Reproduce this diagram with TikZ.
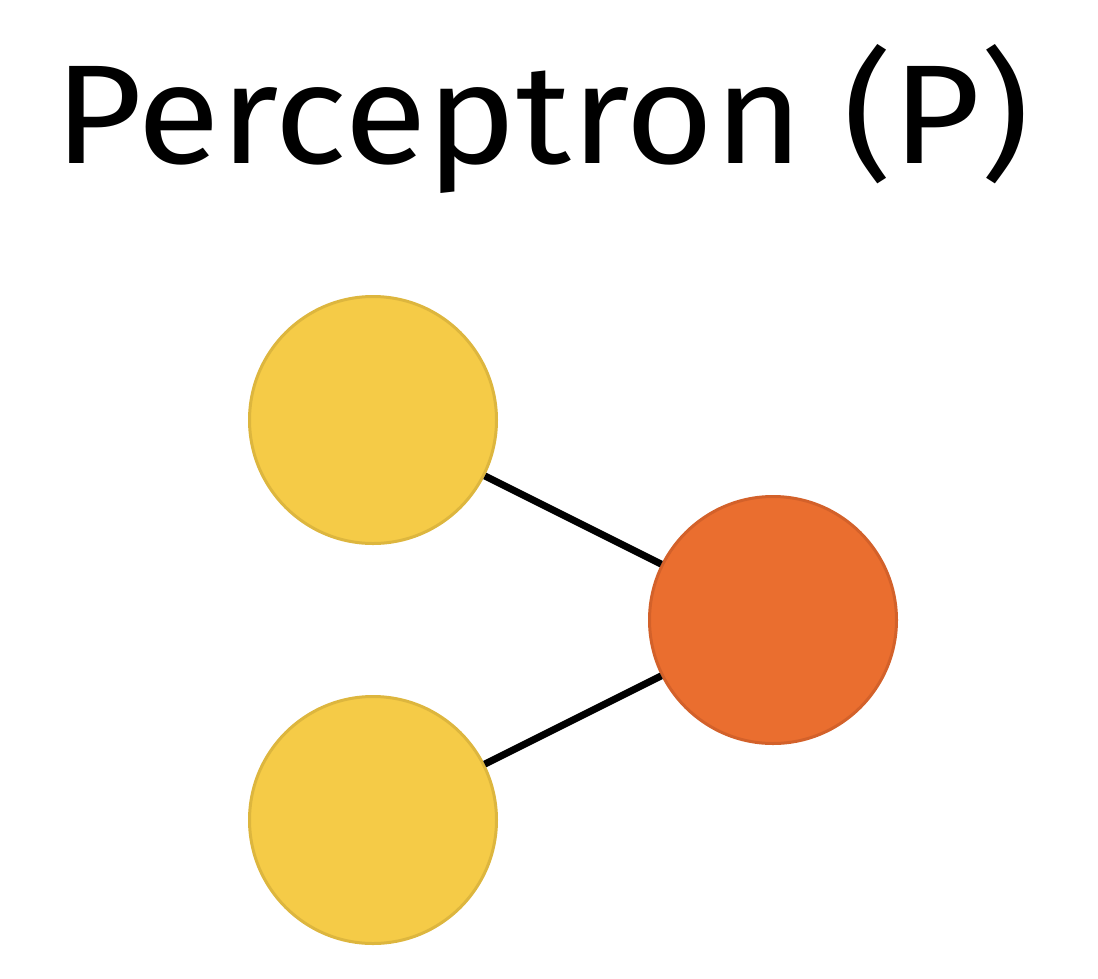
\documentclass[tikz,border=0pt]{standalone}
\usepackage{fontspec}
\setmainfont{Fira Sans}
\definecolor{inyel}{HTML}{F5CB47}
\definecolor{inyelb}{HTML}{DDB63E}
\definecolor{outor}{HTML}{EA6E2F}
\definecolor{outorb}{HTML}{D3612A}
\begin{document}
\begin{tikzpicture}[x=1pt,y=-1pt,
  neuron/.style={circle,minimum size=247pt,inner sep=0pt,line width=3pt},
  inneuron/.style={neuron,fill=inyel,draw=inyelb},
  outneuron/.style={neuron,fill=outor,draw=outorb},
  link/.style={line width=7pt,black}]
\useasboundingbox (0,0) rectangle (1098,978);
\node[anchor=base,inner sep=0pt] (title) at (542,163) {\resizebox{975pt}{119pt}{Perceptron (P)}};
\node[outneuron] (o) at (773,620) {};
\node[inneuron] (a) at (373,420) {};
\node[inneuron] (b) at (373,820) {};
\draw[link] (a) -- (o);
\draw[link] (b) -- (o);
\end{tikzpicture}
\end{document}
